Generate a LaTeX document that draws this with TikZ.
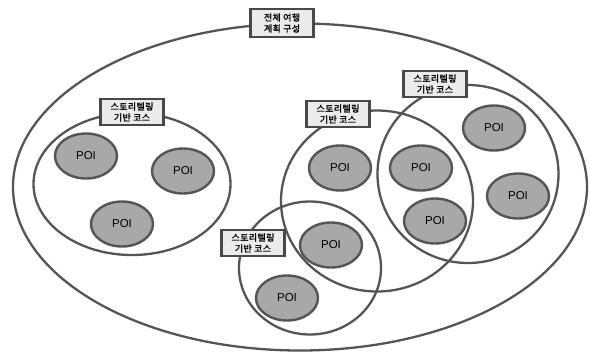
\documentclass[tikz,border=0pt]{standalone}
\usepackage{fontspec}
\newfontfamily\kr{Noto Sans CJK KR}[AutoFakeBold=1.5,LetterSpace=4]
\newfontfamily\poifont{Liberation Sans}
\definecolor{lineC}{HTML}{555555}
\definecolor{poiC}{HTML}{A8A8A8}
\definecolor{labC}{HTML}{EBEBEB}
\tikzset{
  ring/.style={draw=lineC, line width=2.3pt, ellipse, inner sep=0pt},
  poi/.style={draw=lineC, fill=poiC, line width=2.4pt, ellipse, minimum width=62pt, minimum height=45pt, inner sep=0pt, font=\poifont\fontsize{11.5}{13}\selectfont},
  lab/.style={draw=lineC!85!black, fill=labC, line width=2.6pt, minimum width=63pt, minimum height=26pt, inner sep=1pt, align=center, font=\kr\bfseries\fontsize{9}{11}\selectfont}
}
\usetikzlibrary{shapes.geometric}
\begin{document}
\begin{tikzpicture}[x=1pt,y=-1pt]
\useasboundingbox (0,0) rectangle (590,354);
% rings
\node[ring, minimum width=574pt, minimum height=327pt] (outer) at (300,187) {};
\node[ring, minimum width=197pt, minimum height=142pt] (leftc) at (132,184) {};
\node[ring, minimum width=192pt, minimum height=181pt] (midc) at (377,201) {};
\node[ring, minimum width=181pt, minimum height=178pt] (rightc) at (468,174) {};
\node[ring, minimum width=142pt, minimum height=133pt] (botc) at (310,268) {};
% POIs
\node[poi] (p1) at (86,156) {POI};
\node[poi] (p2) at (183,171) {POI};
\node[poi] (p3) at (122,224) {POI};
\node[poi] (p4) at (340,168) {POI};
\node[poi] (p5) at (421,168) {POI};
\node[poi] (p6) at (435,221) {POI};
\node[poi] (p7) at (494,128) {POI};
\node[poi] (p8) at (518,196) {POI};
\node[poi] (p9) at (331,245) {POI};
\node[poi] (p10) at (287,298) {POI};
% labels
\node[lab, minimum height=28pt] (title) at (282,23) {전체 여행\\계획 구성};
\node[lab] (l1) at (132,112) {스토리텔링\\기반 코스};
\node[lab] (l2) at (338,114) {스토리텔링\\기반 코스};
\node[lab] (l3) at (435,84) {스토리텔링\\기반 코스};
\node[lab] (l4) at (253,243) {스토리텔링\\기반 코스};
\end{tikzpicture}
\end{document}
